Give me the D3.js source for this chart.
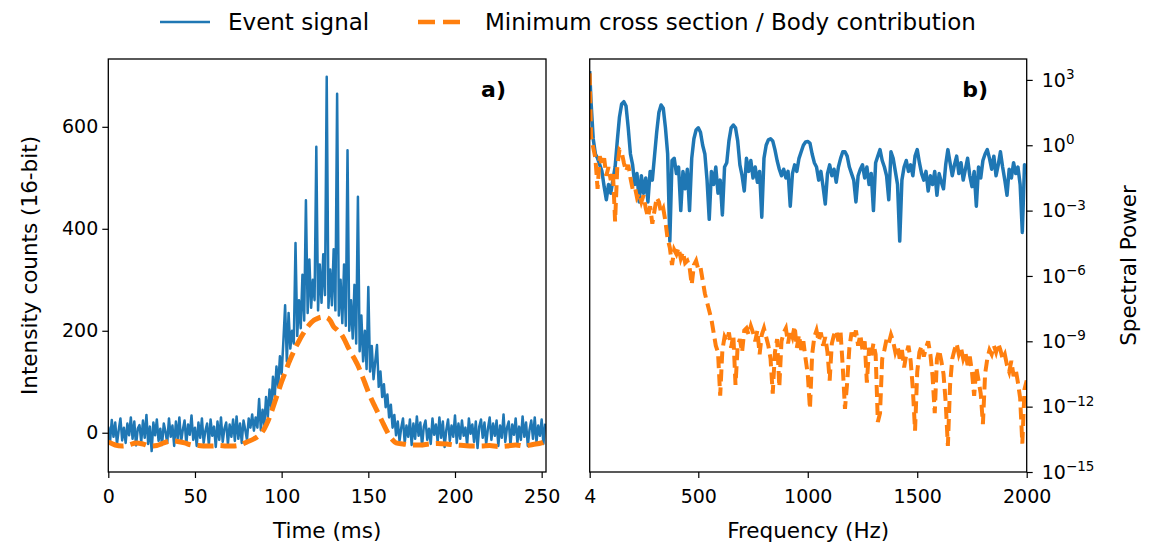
<!DOCTYPE html>
<html>
<head>
<meta charset="utf-8">
<script src="https://cdn.jsdelivr.net/npm/d3@7"></script>
<style>
  body { margin: 0; background: #fff; }
  svg text { font-family: "DejaVu Sans", sans-serif; fill: #000; }
</style>
</head>
<body>
<div id="chart"></div>
<script>
// ---- data ----
// a) event signal, one sample per ms (0..252 ms)
const eventSignal = [
  12, -18, 25, -8, 20, -22, 5, 28, -15, 10,
  -20, 18, -5, 30, -12, 22, -25, 8, 15, -18,
  24, -10, 35, -22, 12, -36, 20, -5, 26, -16,
  8, -24, 18, 2, -20, 28, -8, 14, -26, 22,
  -12, 30, -18, 6, 24, -22, 16, -4, 34, -14,
  10, -26, 20, -10, 28, -20, 4, 18, -24, 26,
  -6, 12, -28, 22, -14, 30, -18, 8, 20, -22,
  16, -8, 26, -16, 32, -12, 18, -20, 24, 6,
  -14, 28, 10, 36, 4, 30,
  10, 66, 5, 45, 15, 70, 30, 85, 50, 110,
  70, 130, 90, 150, 115, 180, 250, 140, 235, 165,
  200, 175, 372, 190, 260, 205, 310, 220, 456, 235,
  340, 245, 300, 260, 561, 240, 330, 255, 350, 270,
  698, 245, 320, 250, 360, 240, 665, 230, 300, 215,
  330, 210, 554, 200, 260, 185, 290, 175, 463, 160,
  230, 140, 200, 125, 286, 120, 170, 105, 140, 172,
  90, 120, 70, 95, 50, 75, 30, 55, 10, 35,
  -5,
  22, -16, 10, 28, -20, 14, -8, 26, -24, 18,
  -12, 32, -6, 20, -26, 12, 24, -14, 8, -22,
  28, -4, 16, -18, 30, -10, 22, -28, 6, 26,
  -16, 14, -8, 34, -20, 18, -12, 24, -6, 10,
  -24, 28, -2, 16, -18, 22, -30, 12, 26, -10,
  20, -22, 8, 30, -14, 18, -6, 24, -26, 14,
  -10, 36, -18, 10, 22, -24, 16, -4, 28, -20,
  12, -14, 32, -8, 20, -26, 6, 24, -12, 30,
  -18, 14, -6, 26, -22, 18
];
const sampleStepMs = 1;

// a) minimum cross section / body contribution
const bodyTime = [0, 4, 8, 12, 16, 20, 24, 28, 32, 36, 40, 44, 48, 52, 56, 60, 64, 68, 72, 76, 80, 84,
  86, 88, 90, 92, 94, 96, 98, 100, 102, 104, 106, 108, 110, 112, 114, 116, 118, 120, 122, 124, 126,
  128, 130, 132, 134, 136, 138, 140, 142, 144, 146, 148, 150, 152, 154, 156, 158, 160, 162, 164, 166,
  170, 175, 180, 185, 190, 195, 200, 205, 210, 215, 220, 225, 230, 235, 240, 245, 250, 252.5];
const bodyCounts = [-18, -24, -26, -24, -20, -22, -26, -25, -20, -16, -17, -20, -24, -25, -26, -26, -25, -26, -26, -24, -18, -12,
  -8, -2, 8, 22, 40, 60, 80, 100, 118, 136, 152, 167, 180, 192, 203, 212, 219, 223, 226, 227, 226,
  220, 208, 202, 195, 184, 170, 157, 145, 132, 115, 98, 80, 64, 50, 36, 22, 8, -5, -14, -20,
  -22, -24, -24, -22, -21, -22, -24, -25, -26, -26, -25, -27, -26, -24, -26, -23, -20, -16];

// b) spectra, frequency in Hz, power as log10
const freqHz = [4, 10, 20, 30, 40, 50, 60, 70, 80, 90, 100, 110, 120, 130, 140, 150, 160, 170, 180, 190,
  200, 210, 220, 230, 240, 250, 260, 270, 280, 290, 300, 310, 320, 330, 340, 350, 360, 370, 380, 390,
  400, 410, 420, 430, 440, 450, 460, 470, 480, 490, 500, 510, 520, 530, 540, 550, 560, 570, 580, 590,
  600, 610, 620, 630, 640, 650, 660, 670, 680, 690, 700, 710, 720, 730, 740, 750, 760, 770, 780, 790,
  800, 810, 820, 830, 840, 850, 860, 870, 880, 890, 900, 910, 920, 930, 940, 950, 960, 970, 980, 990,
  1000, 1010, 1020, 1030, 1040, 1050, 1060, 1070, 1080, 1090, 1100, 1110, 1120, 1130, 1140, 1150, 1160, 1170, 1180, 1190,
  1200, 1210, 1220, 1230, 1240, 1250, 1260, 1270, 1280, 1290, 1300, 1310, 1320, 1330, 1340, 1350, 1360, 1370, 1380, 1390,
  1400, 1410, 1420, 1430, 1440, 1450, 1460, 1470, 1480, 1490, 1500, 1510, 1520, 1530, 1540, 1550, 1560, 1570, 1580, 1590,
  1600, 1610, 1620, 1630, 1640, 1650, 1660, 1670, 1680, 1690, 1700, 1710, 1720, 1730, 1740, 1750, 1760, 1770, 1780, 1790,
  1800, 1810, 1820, 1830, 1840, 1850, 1860, 1870, 1880, 1890, 1900, 1910, 1920, 1930, 1940, 1950, 1960, 1970, 1980, 1990,
  2000];
const eventPowerLog = [3.4, 2.0, 0.3, -0.4, -0.6, -0.9, -1.2, -1.9, -2.5, -1.8, -2.2, -1.6, -1.0, 0.2, 1.3, 1.9, 2.0, 1.8, 0.8, -0.4,
  -0.9, -1.8, -1.3, -2.6, -1.4, -2.2, -1.5, -2.6, -1.2, -1.6, -0.5, 0.6, 1.5, 1.85, 1.7, 0.8, -0.4, -4.4, -0.7, -0.6,
  -1.3, -1.0, -3.0, -1.2, -2.0, -1.1, -3.0, -0.6, 0.3, 0.7, 0.8, 0.6, 0.0, -0.4, -1.6, -3.4, -1.2, -1.8, -1.0, -2.2,
  -1.6, -3.2, -1.0, -0.8, 0.2, 0.8, 0.93, 0.8, 0.2, -0.9, -1.4, -2.1, -0.6, -1.2, -0.7, -1.5, -1.0, -1.7, -1.2, -3.3,
  -0.6, 0.0, 0.25, 0.3, 0.2, -0.2, -0.7, -1.1, -1.4, -1.1, -1.5, -1.2, -2.8, -1.3, -0.9, -1.2, -0.6, -0.3, 0.0, 0.15,
  0.17, 0.1, -0.4, -0.8, -1.0, -1.6, -1.2, -1.9, -2.7, -1.3, -0.9, -1.4, -1.1, -1.7, -1.0, -0.6, -0.3, -0.3, -0.5, -1.0,
  -1.3, -1.6, -2.6, -1.4, -1.1, -0.9, -1.5, -1.0, -1.8, -1.3, -3.0, -0.8, -0.5, -0.2, -0.7, -1.0, -1.4, -2.5, -0.3, -0.6,
  -1.2, -1.8, -4.4, -1.6, -1.0, -0.7, -1.2, -0.9, -1.4, -0.5, -0.2, -0.8, -1.3, -1.6, -1.2, -2.1, -1.4, -1.8, -1.2, -2.3,
  -1.3, -1.7, -2.0, -0.9, -0.2, -0.8, -1.4, -0.9, -0.5, -1.3, -0.8, -1.6, -1.1, -0.6, -1.4, -1.9, -1.2, -2.8, -1.0, -1.5,
  -0.7, -0.4, -0.2, -0.6, -1.1, -0.5, -1.4, -0.9, -0.3, -1.0, -1.6, -2.3, -1.1, -1.5, -0.8, -1.3, -1.0, -1.8, -4.0, -0.9,
  -1.1];
const bodyPowerLog = [3.3, 0.4, -0.1, -0.6, -2.0, -0.5, -0.9, -0.6, -1.4, -1.0, -1.6, -1.2, -3.5, -1.0, -0.2, -0.3, -0.8, -1.2, -0.9, -1.5,
  -2.0, -1.9, -2.4, -2.2, -2.6, -2.3, -2.9, -3.3, -2.8, -3.6, -3.0, -2.4, -2.6, -3.1, -2.9, -3.5, -4.3, -4.7, -5.5, -4.8,
  -5.0, -4.7, -5.2, -4.9, -5.4, -5.3, -5.6, -6.4, -5.5, -5.3, -5.7, -5.6, -6.2, -6.8, -7.2, -7.6, -8.0, -8.6, -9.2, -9.5,
  -11.5, -9.4, -8.8, -9.0, -8.6, -9.3, -8.7, -11.0, -9.2, -8.9, -9.5, -8.5, -8.4, -8.7, -8.3, -8.6, -9.0, -8.5, -9.6, -8.7,
  -8.4, -8.8, -9.2, -9.8, -11.4, -9.5, -8.9, -11.1, -9.0, -8.6, -8.4, -9.1, -8.5, -8.8, -8.3, -9.3, -8.7, -9.4, -9.0, -9.8,
  -10.5, -12.1, -9.6, -8.8, -8.5, -9.0, -8.6, -9.2, -8.8, -9.5, -10.8, -9.1, -8.7, -8.5, -9.0, -8.6, -10.2, -12.1, -10.9, -9.3,
  -8.6, -8.9, -8.5, -9.2, -8.7, -9.4, -9.0, -10.9, -9.3, -9.7, -9.1, -9.6, -12.7, -12.3, -9.8, -9.4, -8.9, -9.1, -8.7, -9.0,
  -9.5, -9.2, -9.8, -9.4, -10.2, -9.6, -9.2, -9.9, -11.2, -13.1, -10.4, -9.5, -9.2, -9.7, -9.3, -9.0, -9.6, -10.6, -12.3, -9.8,
  -9.4, -9.9, -10.5, -11.8, -13.8, -11.0, -9.8, -9.4, -9.1, -9.6, -9.3, -9.8, -9.5, -10.1, -9.7, -10.4, -11.5, -10.2, -10.8, -11.4,
  -12.8, -10.5, -9.8, -9.4, -9.6, -9.2, -9.5, -9.1, -9.4, -9.8, -9.6, -10.1, -10.4, -9.9, -10.6, -10.3, -10.9, -11.6, -13.7, -11.2,
  -10.8];

const timeTicks = [0, 50, 100, 150, 200, 250];
const countTicks = [0, 200, 400, 600];
const freqTicks = [4, 500, 1000, 1500, 2000];
const powerTicks = [-15, -12, -9, -6, -3, 0, 3];

const blue = "#1f77b4", orange = "#ff7f0e";

const svg = d3.select("#chart").append("svg")
  .attr("width", 1150)
  .attr("height", 547);

// panel boxes
const A = { left: 108.3, right: 546, top: 59, bottom: 472 };
const B = { left: 589.7, right: 1026.7, top: 59, bottom: 472 };

const xTime = d3.scaleLinear().domain([0, 252.5]).range([A.left, A.right]);
const yCount = d3.scaleLinear().domain([-77, 733]).range([A.bottom, A.top]);
const xFreq = d3.scaleLinear().domain([4, 2000]).range([B.left, B.right]);
const yPow = d3.scaleLog().domain([1e-15, Math.pow(10, 3.96)]).range([B.bottom, B.top]);

const defs = svg.append("defs");
[["clipA", A], ["clipB", B]].forEach(([id, p]) => {
  defs.append("clipPath").attr("id", id)
    .append("rect")
    .attr("x", p.left).attr("y", p.top)
    .attr("width", p.right - p.left).attr("height", p.bottom - p.top);
});

// ---- panel a ----
const sigPts = eventSignal.map((v, i) => [i * sampleStepMs, v]);
const bodyPts = bodyTime.map((t, i) => [t, bodyCounts[i]]);

const gA = svg.append("g").attr("clip-path", "url(#clipA)");
gA.append("path")
  .datum(sigPts)
  .attr("fill", "none")
  .attr("stroke", blue)
  .attr("stroke-width", 2.5)
  .attr("stroke-linejoin", "round")
  .attr("d", d3.line().x(d => xTime(d[0])).y(d => yCount(d[1])));
gA.append("path")
  .datum(bodyPts)
  .attr("fill", "none")
  .attr("stroke", orange)
  .attr("stroke-width", 5)
  .attr("stroke-dasharray", "16,7")
  .attr("d", d3.line().curve(d3.curveMonotoneX).x(d => xTime(d[0])).y(d => yCount(d[1])));

// ---- panel b ----
const gB = svg.append("g").attr("clip-path", "url(#clipB)");
const specLine = d3.line().x(d => xFreq(d[0])).y(d => yPow(Math.pow(10, d[1])));
gB.append("path")
  .datum(freqHz.map((f, i) => [f, eventPowerLog[i]]))
  .attr("fill", "none")
  .attr("stroke", blue)
  .attr("stroke-width", 3.5)
  .attr("stroke-linejoin", "round")
  .attr("d", specLine);
gB.append("path")
  .datum(freqHz.map((f, i) => [f, bodyPowerLog[i]]))
  .attr("fill", "none")
  .attr("stroke", orange)
  .attr("stroke-width", 4)
  .attr("stroke-dasharray", "12,6")
  .attr("d", specLine);

// ---- axes ----
function styleAxis(g) {
  g.select(".domain").remove();
  g.selectAll(".tick line").attr("stroke", "#000").attr("stroke-width", 1.2);
  g.selectAll(".tick text").style("font-size", "19px").attr("fill", "#000");
}

svg.append("g")
  .attr("transform", `translate(0,${A.bottom})`)
  .call(d3.axisBottom(xTime).tickValues(timeTicks).tickFormat(d3.format("d")).tickSize(6).tickPadding(12))
  .call(styleAxis);
svg.append("g")
  .attr("transform", `translate(${A.left},0)`)
  .call(d3.axisLeft(yCount).tickValues(countTicks).tickFormat(d3.format("d")).tickSize(6).tickPadding(4))
  .call(styleAxis);
svg.append("g")
  .attr("transform", `translate(0,${B.bottom})`)
  .call(d3.axisBottom(xFreq).tickValues(freqTicks).tickFormat(d3.format("d")).tickSize(6).tickPadding(12))
  .call(styleAxis);

const yPowAxis = svg.append("g")
  .attr("transform", `translate(${B.right},0)`)
  .call(d3.axisRight(yPow).tickValues(powerTicks.map(e => Math.pow(10, e))).tickSize(6).tickPadding(9))
  .call(styleAxis);
yPowAxis.selectAll(".tick text")
  .text(null)
  .each(function (d) {
    const e = Math.round(Math.log10(d));
    const t = d3.select(this);
    t.append("tspan").text("10");
    t.append("tspan")
      .attr("dy", "-0.55em")
      .style("font-size", "13.5px")
      .text(String(e).replace("-", "\u2212"));
  });

// frames
[A, B].forEach(p => {
  svg.append("rect")
    .attr("x", p.left).attr("y", p.top)
    .attr("width", p.right - p.left).attr("height", p.bottom - p.top)
    .attr("fill", "none")
    .attr("stroke", "#000")
    .attr("stroke-width", 1.3);
});

// axis titles
svg.append("text")
  .attr("x", (A.left + A.right) / 2).attr("y", 538)
  .attr("text-anchor", "middle")
  .style("font-size", "21.5px")
  .text("Time (ms)");
svg.append("text")
  .attr("x", (B.left + B.right) / 2).attr("y", 538)
  .attr("text-anchor", "middle")
  .style("font-size", "21.5px")
  .text("Frequency (Hz)");
svg.append("text")
  .attr("transform", `translate(37,${(A.top + A.bottom) / 2}) rotate(-90)`)
  .attr("text-anchor", "middle")
  .style("font-size", "21.5px")
  .text("Intensity counts (16-bit)");
svg.append("text")
  .attr("transform", `translate(1136,${(B.top + B.bottom) / 2}) rotate(-90)`)
  .attr("text-anchor", "middle")
  .style("font-size", "21.5px")
  .text("Spectral Power");

// panel letters
svg.append("text")
  .attr("x", 506).attr("y", 97)
  .attr("text-anchor", "end")
  .style("font-size", "22px").style("font-weight", "700")
  .text("a)");
svg.append("text")
  .attr("x", 988).attr("y", 97)
  .attr("text-anchor", "end")
  .style("font-size", "22px").style("font-weight", "700")
  .text("b)");

// legend
const legend = svg.append("g");
legend.append("line")
  .attr("x1", 160).attr("x2", 210).attr("y1", 22).attr("y2", 22)
  .attr("stroke", blue).attr("stroke-width", 2.5);
legend.append("text")
  .attr("x", 228).attr("y", 30)
  .style("font-size", "23px")
  .text("Event signal");
legend.append("line")
  .attr("x1", 418).attr("x2", 463).attr("y1", 22).attr("y2", 22)
  .attr("stroke", orange).attr("stroke-width", 4.5)
  .attr("stroke-dasharray", "17,8");
legend.append("text")
  .attr("x", 485).attr("y", 30)
  .style("font-size", "23px")
  .text("Minimum cross section / Body contribution");
</script>
</body>
</html>
